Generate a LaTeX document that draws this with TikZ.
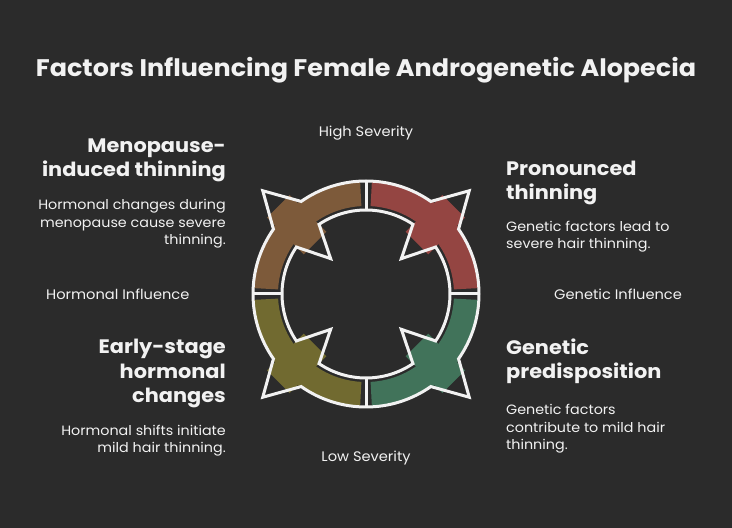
\documentclass[tikz,border=0pt]{standalone}
\usepackage{fontspec}
\setmainfont{Poppins}
\newfontfamily\headfont{Poppins}[BoldFont={Poppins Bold}, FakeStretch=1.07]
\newfontfamily\widefont{Poppins}[BoldFont={Poppins Bold}, FakeStretch=1.06]
\usetikzlibrary{positioning}

\definecolor{bgdark}{HTML}{2B2B2B}
\definecolor{ringwhite}{HTML}{F2F2F2}
\definecolor{quadbrown}{HTML}{7D5A3A}
\definecolor{quadred}{HTML}{944542}
\definecolor{quadgreen}{HTML}{41735A}
\definecolor{quadolive}{HTML}{716A30}

\begin{document}
\begin{tikzpicture}[x=1pt,y=1pt]
  \tikzset{title/.style={font=\widefont\fontsize{24}{28}\selectfont\bfseries,
      text=ringwhite, inner sep=0pt}}
  \tikzset{heading/.style={font=\headfont\fontsize{19.5}{24.5}\selectfont\bfseries,
      text=ringwhite, inner sep=0pt}}
  \tikzset{desc/.style={font=\widefont\fontsize{13.5}{17.5}\selectfont,
      text=ringwhite, inner sep=0pt}}
  \tikzset{axis/.style={font=\widefont\fontsize{13.8}{16}\selectfont,
      text=ringwhite, inner sep=0pt}}
  \tikzset{outline/.style={draw=ringwhite, line width=3pt, line join=miter}}
  \tikzset{band/.style={fill=#1}}
  % background with the reference margins
  \fill[bgdark] (0,0) rectangle (732,528);
  \coordinate (hub) at (366,234);
  % coloured quadrants
  \begin{scope}[shift={(hub)}]
    \foreach \a/\col in {90/quadbrown, 0/quadred, 270/quadgreen, 180/quadolive} {
      \fill[band=\col] (\a+3:114pt) arc[start angle=\a+3, end angle=\a+87, radius=114pt]
        -- (\a+87:88pt) arc[start angle=\a+87, end angle=\a+3, radius=88pt] -- cycle;
      \fill[band=\col, rotate=\a+45] (72pt,-16pt) rectangle (124pt,16pt);
    }
    % ring with outward and inward spikes
    \draw[outline] (35:113pt) -- (45:146pt) -- (55:113pt)
      arc[start angle=55, end angle=125, radius=113pt] -- (135:146pt) -- (145:113pt)
      arc[start angle=145, end angle=215, radius=113pt] -- (225:146pt) -- (235:113pt)
      arc[start angle=235, end angle=305, radius=113pt] -- (315:146pt) -- (325:113pt)
      arc[start angle=325, end angle=395, radius=113pt] -- cycle;
    \draw[outline] (34:84pt) -- (45:50pt) -- (56:84pt)
      arc[start angle=56, end angle=124, radius=84pt] -- (135:50pt) -- (146:84pt)
      arc[start angle=146, end angle=214, radius=84pt] -- (225:50pt) -- (236:84pt)
      arc[start angle=236, end angle=304, radius=84pt] -- (315:50pt) -- (326:84pt)
      arc[start angle=326, end angle=394, radius=84pt] -- cycle;
    \foreach \a in {0,90,180,270}
      \draw[outline] (\a:84pt) -- (\a:113pt);
  \end{scope}
  % texts (base = baseline of the last line)
  \node[title, anchor=base] (title) at (366,451)
    {Factors Influencing Female Androgenetic Alopecia};
  \node[axis, anchor=base] (high) at (366,391) {High Severity};
  \node[axis, anchor=base] (low) at (366,66) {Low Severity};
  \node[axis, anchor=base west] (hormonal) at (46,228) {Hormonal Influence};
  \node[axis, anchor=base west] (genetic) at (554,228) {Genetic Influence};

  \node[heading, align=right, anchor=base east] (menohead) at (226,351)
    {Menopause-\\induced thinning};
  \node[desc, align=right, anchor=base east] (menodesc) at (226,283)
    {Hormonal changes during\\menopause cause severe\\thinning.};
  \node[heading, align=right, anchor=base east] (earlyhead) at (226,125)
    {Early-stage\\hormonal\\changes};
  \node[desc, align=right, anchor=base east] (earlydesc) at (226,75)
    {Hormonal shifts initiate\\mild hair thinning.};
  \node[heading, align=left, anchor=base west] (pronhead) at (506,328)
    {Pronounced\\thinning};
  \node[desc, align=left, anchor=base west] (prondesc) at (506,279)
    {Genetic factors lead to\\severe hair thinning.};
  \node[heading, align=left, anchor=base west] (genhead) at (506,149)
    {Genetic\\predisposition};
  \node[desc, align=left, anchor=base west] (gendesc) at (506,78)
    {Genetic factors\\contribute to mild hair\\thinning.};
\end{tikzpicture}
\end{document}
